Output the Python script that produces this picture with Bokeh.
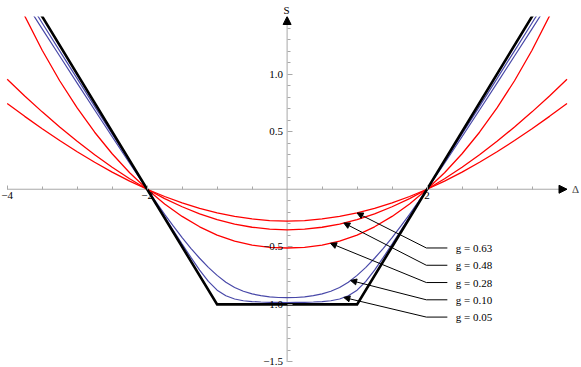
import numpy as np
from bokeh.plotting import figure
from bokeh.models import (Range1d, FixedTicker, CustomJSTickFormatter, Arrow,
                          NormalHead, Label, ColumnDataSource)
from bokeh.core.properties import value
from bokeh.embed import file_html
from bokeh.resources import INLINE

# ---------------- data ----------------
delta = [-4, -3.75, -3.5, -3.25, -3, -2.75, -2.5, -2.25, -2, -1.75, -1.5, -1.25, -1,
         -0.75, -0.5, -0.25, 0, 0.25, 0.5, 0.75, 1, 1.25, 1.5, 1.75, 2, 2.25, 2.5,
         2.75, 3, 3.25, 3.5, 3.75, 4]

s_g063 = [0.745, 0.633, 0.526, 0.423, 0.326, 0.234, 0.149, 0.071, 0.0, -0.063, -0.119,
          -0.167, -0.206, -0.236, -0.258, -0.272, -0.276, -0.272, -0.258, -0.236, -0.206,
          -0.167, -0.119, -0.063, 0.0, 0.071, 0.149, 0.234, 0.326, 0.423, 0.526, 0.633, 0.745]

s_g048 = [0.955, 0.810, 0.672, 0.541, 0.416, 0.300, 0.191, 0.091, 0.0, -0.081, -0.152,
          -0.213, -0.263, -0.302, -0.330, -0.347, -0.353, -0.347, -0.330, -0.302, -0.263,
          -0.213, -0.152, -0.081, 0.0, 0.091, 0.191, 0.300, 0.416, 0.541, 0.672, 0.810, 0.955]

s_g028 = [1.830, 1.505, 1.207, 0.942, 0.706, 0.495, 0.308, 0.143, 0.0, -0.128, -0.236,
          -0.326, -0.398, -0.451, -0.486, -0.504, -0.510, -0.504, -0.486, -0.451, -0.398,
          -0.326, -0.236, -0.128, 0.0, 0.143, 0.308, 0.495, 0.706, 0.942, 1.207, 1.505, 1.830]

delta_fine = [-4, -3.75, -3.5, -3.25, -3, -2.75, -2.5, -2.25, -2,
              -1.875, -1.75, -1.625, -1.5, -1.375, -1.25, -1.125, -1, -0.875, -0.75,
              -0.625, -0.5, -0.375, -0.25, -0.125, 0, 0.125, 0.25, 0.375, 0.5, 0.625,
              0.75, 0.875, 1, 1.125, 1.25, 1.375, 1.5, 1.625, 1.75, 1.875,
              2, 2.25, 2.5, 2.75, 3, 3.25, 3.5, 3.75, 4]

s_g010 = [1.868, 1.630, 1.393, 1.157, 0.922, 0.688, 0.456, 0.226, 0.0,
          -0.110, -0.218, -0.321, -0.420, -0.513, -0.599, -0.678, -0.748, -0.807, -0.853,
          -0.886, -0.909, -0.924, -0.934, -0.940, -0.941, -0.940, -0.934, -0.924, -0.909,
          -0.886, -0.853, -0.807, -0.748, -0.678, -0.599, -0.513, -0.420, -0.321, -0.218,
          -0.110, 0.0, 0.226, 0.456, 0.688, 0.922, 1.157, 1.393, 1.630, 1.868]

s_g005 = [1.930, 1.687, 1.444, 1.202, 0.961, 0.720, 0.480, 0.240, 0.0,
          -0.120, -0.239, -0.358, -0.476, -0.592, -0.702, -0.800, -0.876, -0.925, -0.953,
          -0.968, -0.975, -0.979, -0.982, -0.983, -0.984, -0.983, -0.982, -0.979, -0.975,
          -0.968, -0.953, -0.925, -0.876, -0.800, -0.702, -0.592, -0.476, -0.358, -0.239,
          -0.120, 0.0, 0.240, 0.480, 0.720, 0.961, 1.202, 1.444, 1.687, 1.930]

delta_limit = [-4, -1, 1, 4]
s_limit = [2, -1, -1, 2]

g_labels = ["g = 0.63", "g = 0.48", "g = 0.28", "g = 0.10", "g = 0.05"]

x_major = [-4, -2, 2]
x_minor = [-3.5, -3, -2.5, -1.5, -1, -0.5, 0.5, 1, 1.5, 2.5, 3, 3.5]
y_major = [-1.5, -1.0, -0.5, 0.5, 1.0]
y_minor = [-1.4, -1.3, -1.2, -1.1, -0.9, -0.8, -0.7, -0.6, -0.4, -0.3, -0.2, -0.1,
           0.1, 0.2, 0.3, 0.4, 0.6, 0.7, 0.8, 0.9, 1.1, 1.2, 1.3, 1.4]

# ---------------- styles / layout ----------------
RED = "#ff0000"
BLUE = "#4848a8"
AXIS_GRAY = "#a8a8a8"
FONT = "Liberation Serif"
FS = "11px"
X_LO, X_HI = -4.0, 4.0
Y_LO, Y_HI = -1.5, 1.5

p = figure(width=581, height=367, output_backend="svg", toolbar_location=None,
           x_range=Range1d(-4.0957, 4.2071), y_range=Range1d(-1.5478, Y_HI),
           min_border_left=0, min_border_right=0, min_border_top=16,
           min_border_bottom=0)
p.outline_line_color = None
p.xgrid.visible = False
p.ygrid.visible = False
p.background_fill_color = "white"

# "S" axis name sits above the plot frame (title panel)
p.title.text = "S"
p.title.align = "left"
p.title.offset = 283
p.title.standoff = 0
p.title.vertical_align = "middle"
p.title.text_font = FONT
p.title.text_font_size = FS
p.title.text_font_style = "normal"
p.title.text_color = "black"

# axes through the origin (ticks and labels by Bokeh axes)
xa = p.xaxis[0]
xa.fixed_location = 0
xa.ticker = FixedTicker(ticks=x_major, minor_ticks=x_minor)
xa.formatter = CustomJSTickFormatter(
    code="return (tick < 0 ? '\\u2212' : '') + Math.abs(Math.round(tick)).toString();")
ya = p.yaxis[0]
ya.fixed_location = 0
ya.ticker = FixedTicker(ticks=y_major, minor_ticks=y_minor)
ya.formatter = CustomJSTickFormatter(
    code="return (tick < 0 ? '\\u2212' : '') + Math.abs(tick).toFixed(1);")
for ax in (xa, ya):
    ax.axis_line_color = None
    ax.major_tick_line_color = AXIS_GRAY
    ax.minor_tick_line_color = AXIS_GRAY
    ax.major_tick_out = 0
    ax.minor_tick_out = 0
    ax.major_label_text_font = FONT
    ax.major_label_text_font_size = FS
    ax.major_label_text_color = "black"
xa.major_tick_in = 4
xa.minor_tick_in = 3
xa.major_label_standoff = 3
ya.major_tick_in = 5
ya.minor_tick_in = 3
ya.major_label_standoff = 4

# axis lines
p.segment(x0=[X_LO, 0], y0=[0, Y_LO], x1=[X_HI, 0], y1=[0, Y_HI],
          line_color=AXIS_GRAY, line_width=1)

# curves
p.line(delta, s_g063, line_color=RED, line_width=1.3)
p.line(delta, s_g048, line_color=RED, line_width=1.3)
p.line(delta, s_g028, line_color=RED, line_width=1.3)
p.line(delta_fine, s_g010, line_color=BLUE, line_width=1.2)
p.line(delta_fine, s_g005, line_color=BLUE, line_width=1.2)
p.line(delta_limit, s_limit, line_color="black", line_width=2.6, line_join="miter")

# axis arrowheads and the Δ label
p.add_layout(Arrow(end=NormalHead(size=8, fill_color="black", line_color="black"),
                   x_start=X_HI - 0.2, y_start=0, x_end=X_HI, y_end=0, line_alpha=0))
p.add_layout(Arrow(end=NormalHead(size=8, fill_color="black", line_color="black"),
                   x_start=0, y_start=Y_HI - 0.2, x_end=0, y_end=Y_HI, line_alpha=0))
p.add_layout(Label(x=X_HI, y=0, x_offset=5, text="\u0394", text_align="left",
                   text_baseline="middle", text_font=FONT, text_font_size=FS))

# leader annotations
curves = [(delta, s_g063), (delta, s_g048), (delta, s_g028), (delta_fine, s_g010),
          (delta_fine, s_g005)]
tip_x = [1.0, 0.81, 0.62, 0.907, 0.81]
tip_y = [float(np.interp(tx, c[0], c[1])) for tx, c in zip(tip_x, curves)]
kink_y = [-0.51, -0.66, -0.81, -0.96, -1.11]
kink_x = [1.99] * 5
hend_x = [2.29] * 5
text_x = [2.41] * 5

src = ColumnDataSource(dict(x0=kink_x, y0=kink_y, x1=tip_x, y1=tip_y))
p.add_layout(Arrow(source=src, x_start="x0", y_start="y0", x_end="x1", y_end="y1",
                   line_color="black", line_width=1,
                   end=NormalHead(size=6, fill_color="black", line_color="black")))
p.segment(x0=kink_x, y0=kink_y, x1=hend_x, y1=kink_y, line_color="black", line_width=1)
p.text(x=text_x, y=kink_y, text=g_labels, text_font=value(FONT), text_font_size=FS,
       text_baseline="middle", text_align="left", text_color="black")

open("out.html", "w").write(file_html(p, INLINE))
